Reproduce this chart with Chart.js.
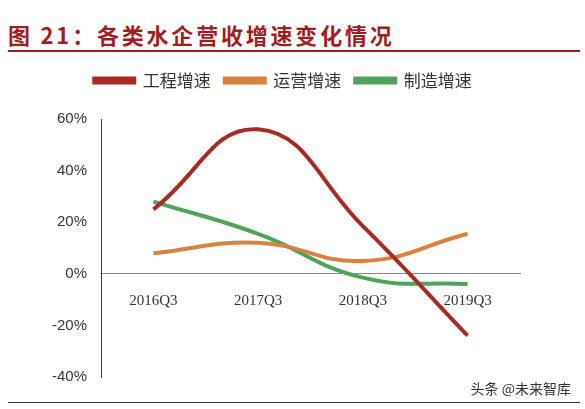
<!DOCTYPE html>
<html><head><meta charset="utf-8">
<script src="https://cdn.jsdelivr.net/npm/chart.js@4/dist/chart.umd.min.js"></script>
<style>
body{margin:0;width:585px;height:409px;background:#fff;position:relative;font-family:"Noto Sans CJK SC",sans-serif;overflow:hidden}
#title{position:absolute;left:8px;top:20px;font-size:22px;font-weight:bold;color:#a31d1f;letter-spacing:2.8px;line-height:28px}
#rule{position:absolute;left:8px;top:50px;width:572px;height:2px;background:#a31d1f}
#bottom{position:absolute;left:8px;top:402px;width:572px;height:1px;background:#333}
#wm{position:absolute;right:14px;top:378px;font-size:14px;color:#333}
#c{position:absolute;left:0;top:58px}
</style></head><body>
<div id="title">图 21：各类水企营收增速变化情况</div>
<div id="rule"></div>
<canvas id="c" width="585" height="345"></canvas>
<div id="bottom"></div>
<div id="wm">头条 @未来智库</div>
<script>
const categories=["2016Q3","2017Q3","2018Q3","2019Q3"];
const gongcheng=[25,56,18.5,-24];
const yunying=[8,12,5,15.5];
const zhizao=[28,15.5,-1.5,-4];
const yTicks=[-40,-20,0,20,40,60];
const legendPad={id:'lp',beforeInit(c){const l=c.legend;const f=l.fit;l.fit=function(){f.call(this);this.height+=20;};}};
new Chart(document.getElementById('c'),{type:'line',
data:{labels:categories,datasets:[
{label:'工程增速',data:gongcheng,borderColor:'#a82a22',borderWidth:4,tension:0.45,pointRadius:0},
{label:'运营增速',data:yunying,borderColor:'#d9813d',borderWidth:4,tension:0.45,pointRadius:0},
{label:'制造增速',data:zhizao,borderColor:'#4ea458',borderWidth:4,tension:0.45,pointRadius:0}]},
options:{responsive:false,animation:false,
layout:{padding:{left:46,right:65,top:0,bottom:26}},
plugins:{legend:{labels:{boxWidth:40,boxHeight:4,font:{size:17,family:'Noto Sans CJK SC'},color:'#333',padding:14}},tooltip:{enabled:false}},
scales:{
x:{position:{y:0},offset:true,grid:{display:false},border:{color:'#888',width:1},
 ticks:{font:{size:15,family:'Liberation Serif'},color:'#333',padding:10}},
y:{min:-40,max:60,afterBuildTicks:a=>{a.ticks=yTicks.map(v=>({value:v}))},
 grid:{display:false},border:{color:'#c00',width:1},
 ticks:{callback:v=>v+'%',font:{size:15,family:'Liberation Sans'},color:'#333',padding:6}}}},
plugins:[legendPad]});
</script></body></html>
